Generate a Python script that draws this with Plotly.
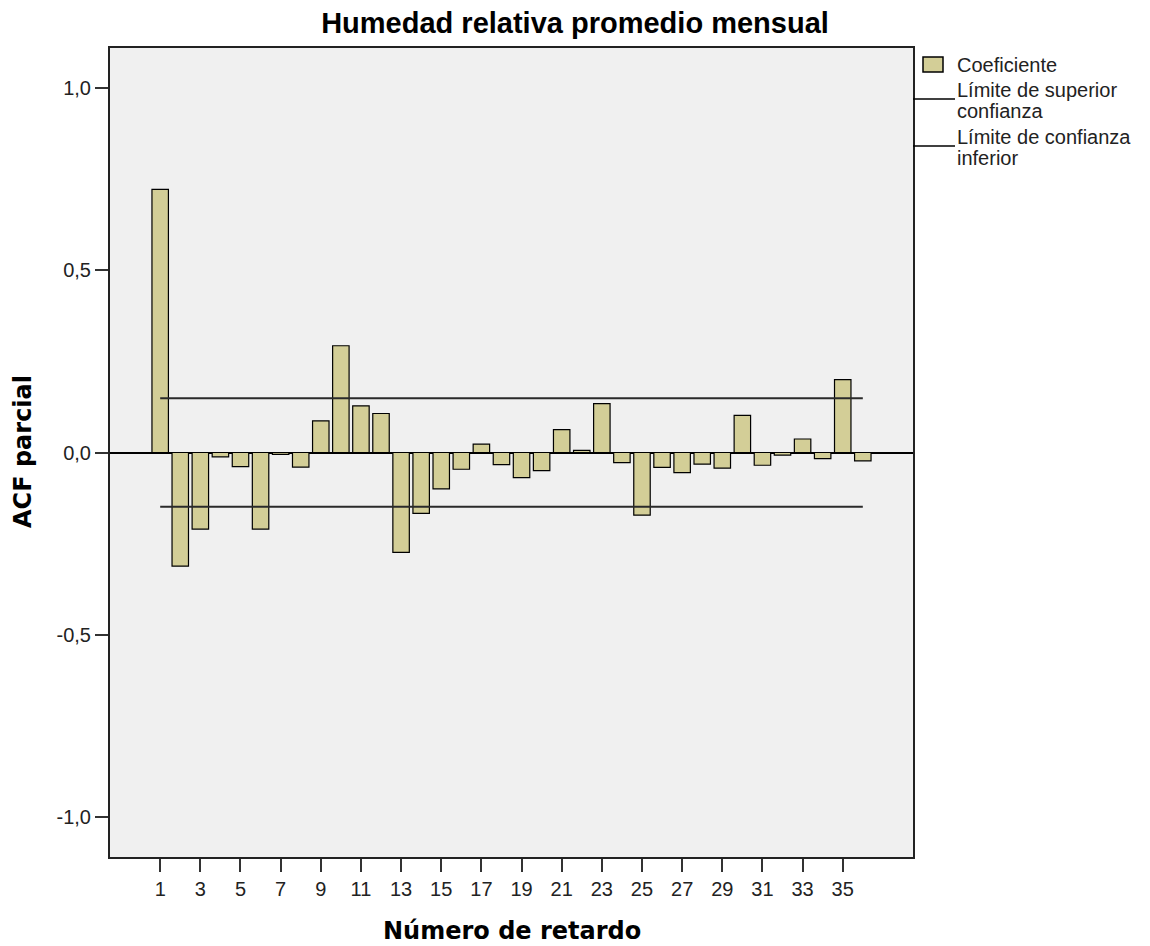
import plotly.graph_objects as go

lags = list(range(1, 37))
pacf = [0.722, -0.312, -0.210, -0.012, -0.039, -0.210, -0.005, -0.040, 0.087, 0.293,
        0.128, 0.107, -0.274, -0.167, -0.100, -0.046, 0.023, -0.033, -0.069, -0.050,
        0.063, 0.006, 0.134, -0.028, -0.172, -0.041, -0.055, -0.032, -0.043, 0.102,
        -0.035, -0.007, 0.037, -0.017, 0.200, -0.023]
conf_upper = 0.149
conf_lower = -0.149
xticks = list(range(1, 37, 2))
yticks = [-1.0, -0.5, 0.0, 0.5, 1.0]
ytick_labels = ["-1,0", "-0,5", "0,0", "0,5", "1,0"]

title = "Humedad relativa promedio mensual"
xlab = "Número de retardo"
ylab = "ACF parcial"
legend_labels = ["Coeficiente", "Límite de superior", "confianza", "Límite de confianza", "inferior"]

BAR = "#D3CE97"
FONT = "Liberation Sans, Arial, sans-serif"
BFONT = "DejaVu Sans, Verdana, sans-serif"

# plot area in reference pixels
PL, PR, PT, PB = 110, 913, 48, 857
OFF = 8  # page body margin
W, H = 1150, 946


def px(xref_px):
    return (xref_px - PL) / (PR - PL)


def py(yref_px):
    return 1 - (yref_px - PT) / (PB - PT)


fig = go.Figure()
fig.add_trace(go.Bar(x=lags, y=pacf, width=0.82,
                     marker=dict(color=BAR, line=dict(color="black", width=1.2)),
                     showlegend=False))
fig.add_trace(go.Scatter(x=[lags[0], lags[-1]], y=[conf_upper, conf_upper], mode="lines",
                         line=dict(color="#2a2a2a", width=2), showlegend=False))
fig.add_trace(go.Scatter(x=[lags[0], lags[-1]], y=[conf_lower, conf_lower], mode="lines",
                         line=dict(color="#2a2a2a", width=2), showlegend=False))

fig.update_layout(
    width=W, height=H,
    margin=dict(l=PL - OFF, r=W - (PR - OFF), t=PT - OFF, b=H - (PB - OFF)),
    paper_bgcolor="white", plot_bgcolor="#F0F0F0",
    separators=",.",
    font=dict(family=FONT, size=20, color="#222"),
    title=dict(text="<b>" + title + "</b>", x=(575 - OFF) / W, xanchor="center",
               y=1 - (23 - OFF) / H, yanchor="middle",
               font=dict(size=29, family=FONT, color="black")),
)
fig.update_xaxes(range=[-1.5, 38.5], tickvals=xticks, ticks="outside", ticklen=13, tickwidth=2,
                 tickcolor="#333", showline=True, linecolor="#222", linewidth=2, mirror=True,
                 showgrid=False, zeroline=False, tickfont=dict(size=20))
fig.update_yaxes(range=[-1.11, 1.11], tickvals=yticks, ticktext=ytick_labels, ticks="outside",
                 ticklen=13, tickwidth=2, tickcolor="#333", showline=True, linecolor="#222",
                 linewidth=2, mirror=True, showgrid=False, zeroline=True, zerolinecolor="black",
                 zerolinewidth=2, tickfont=dict(size=20))

# axis titles
fig.add_annotation(text="<b>" + xlab + "</b>", xref="paper", yref="paper", showarrow=False,
                   x=0.5, xanchor="center", y=py(931), yanchor="middle",
                   font=dict(size=24, family=BFONT, color="black"))
fig.add_annotation(text="<b>" + ylab + "</b>", xref="paper", yref="paper", showarrow=False,
                   x=px(23), xanchor="center", y=py(452), yanchor="middle", textangle=-90,
                   font=dict(size=24, family=BFONT, color="black"))

# manual legend
fig.add_shape(type="rect", xref="paper", yref="paper",
              x0=px(923), x1=px(943), y0=py(72), y1=py(57),
              fillcolor=BAR, line=dict(color="black", width=1.5))
for ypix in [99, 146]:
    fig.add_shape(type="line", xref="paper", yref="paper",
                  x0=1, x1=px(955), y0=py(ypix), y1=py(ypix),
                  line=dict(color="black", width=1.5))
for lab, ypix in zip(legend_labels, [65, 90, 111, 137, 158]):
    fig.add_annotation(text=lab, xref="paper", yref="paper", showarrow=False,
                       x=px(955), xanchor="left", align="left",
                       y=py(ypix), yanchor="middle",
                       font=dict(size=20, family=FONT, color="#222"))

fig.write_html("out.html")
